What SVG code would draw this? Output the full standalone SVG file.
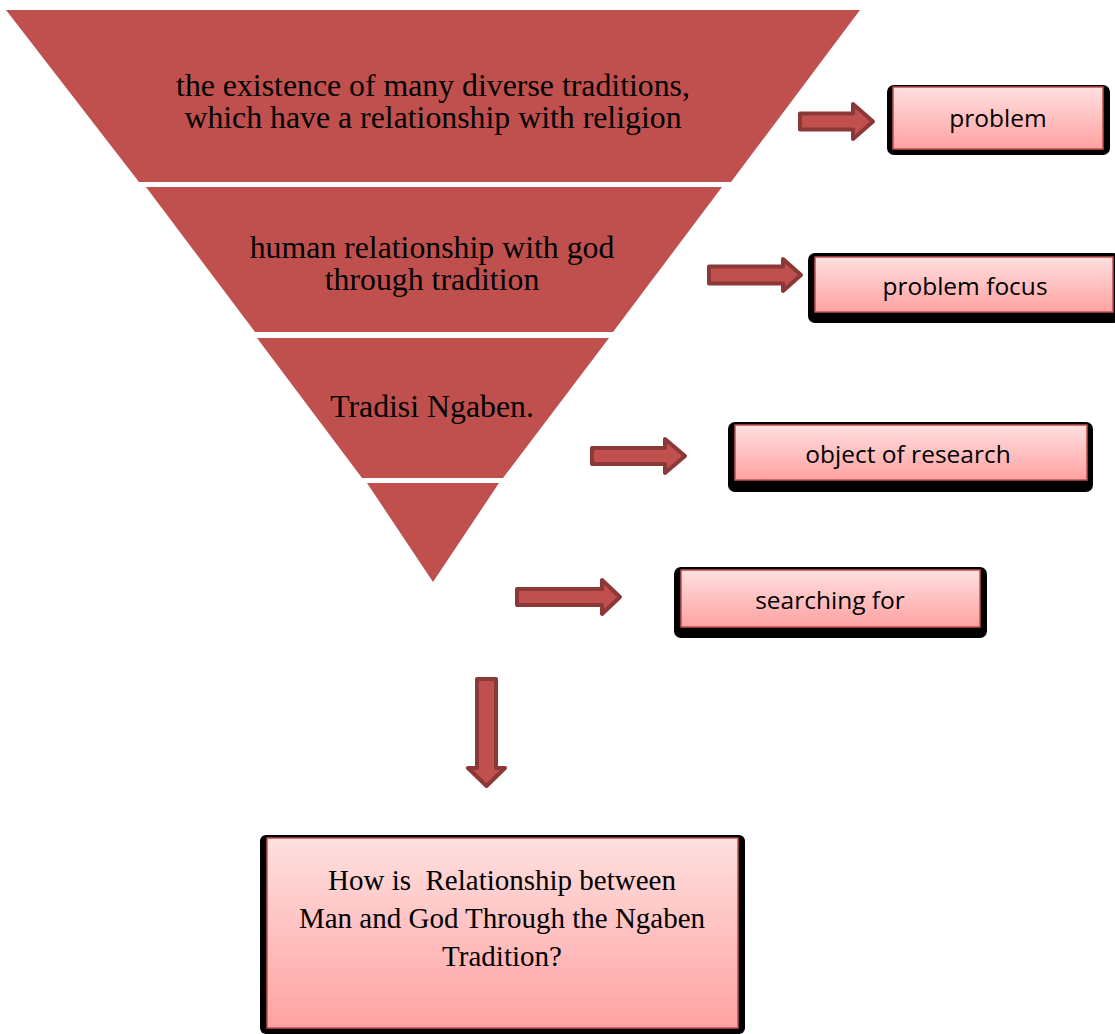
<svg xmlns="http://www.w3.org/2000/svg" width="1115" height="1034" viewBox="0 0 1115 1034">
<style>
.seg{fill:#c0504d;}
.ft{font-family:"Liberation Serif","Times New Roman",serif;font-size:31.8px;fill:#000;text-anchor:middle;}
.qt{font-family:"Liberation Serif","Times New Roman",serif;font-size:29px;fill:#000;text-anchor:middle;white-space:pre;}
.bt{font-family:"Open Sans","Liberation Sans",sans-serif;font-size:24.5px;fill:#000;text-anchor:middle;}
.shadow{fill:#000;}
.box{fill:url(#pink);stroke:#c0504d;stroke-width:1.5;}
.arrow{fill:#c0504d;stroke:#8c3836;stroke-width:4;stroke-linejoin:round;}
</style>
<defs>
<linearGradient id="pink" x1="0" y1="0" x2="0" y2="1">
<stop offset="0" stop-color="#ffe0e0"/>
<stop offset="1" stop-color="#ffa1a1"/>
</linearGradient>
</defs>
<g id="funnel-1"><polygon class="seg" points="6,10 860,10 731,182 139,182"/><text class="ft" x="433" y="96">the existence of many diverse traditions,</text><text class="ft" x="433" y="128">which have a relationship with religion</text></g>
<g id="funnel-2"><polygon class="seg" points="146,187 722,187 613,332 255,332"/><text class="ft" x="432" y="258">human relationship with god</text><text class="ft" x="432" y="290">through tradition</text></g>
<g id="funnel-3"><polygon class="seg" points="257,338 609,338 503,478 362,478"/><text class="ft" x="432" y="417">Tradisi Ngaben.</text></g>
<g id="funnel-4"><polygon class="seg" points="367,483 499,483 433,582"/></g>
<g id="box-problem"><rect class="shadow" x="887" y="85" width="223" height="70" rx="7"/><rect class="box" x="893" y="87" width="210" height="62"/><text class="bt" x="998" y="127">problem</text></g>
<g id="box-problem-focus"><rect class="shadow" x="808" y="253" width="312" height="70" rx="7"/><rect class="box" x="815" y="257" width="298" height="55"/><text class="bt" x="965" y="295">problem focus</text></g>
<g id="box-object"><rect class="shadow" x="728" y="422" width="365" height="70" rx="7"/><rect class="box" x="735" y="425" width="352" height="55"/><text class="bt" x="908" y="463">object of research</text></g>
<g id="box-searching"><rect class="shadow" x="674" y="567" width="313" height="71" rx="7"/><rect class="box" x="681" y="570" width="299" height="57"/><text class="bt" x="830" y="609">searching for</text></g>
<g id="box-question"><rect class="shadow" x="260" y="835" width="485" height="199" rx="6"/><rect class="box" x="267" y="838" width="471" height="190"/><text class="qt" x="502" y="890">How is  Relationship between</text><text class="qt" x="502" y="928">Man and God Through the Ngaben</text><text class="qt" x="502" y="966">Tradition?</text></g>
<g id="connectors">
<path class="arrow" d="M800,113.5 H853 V104 L873,121.5 L853,139 V129.5 H800 Z"/>
<path class="arrow" d="M709,266.5 H783 V259 L801,275 L783,291 V283.5 H709 Z"/>
<path class="arrow" d="M592,448 H665 V439 L685,456 L665,473 V464 H592 Z"/>
<path class="arrow" d="M517,589 H602 V580 L620,597 L602,614 V605 H517 Z"/>
<path class="arrow" d="M477,679 H496 V768 H505 L486.5,786 L468,768 H477 Z"/>
</g>
</svg>
